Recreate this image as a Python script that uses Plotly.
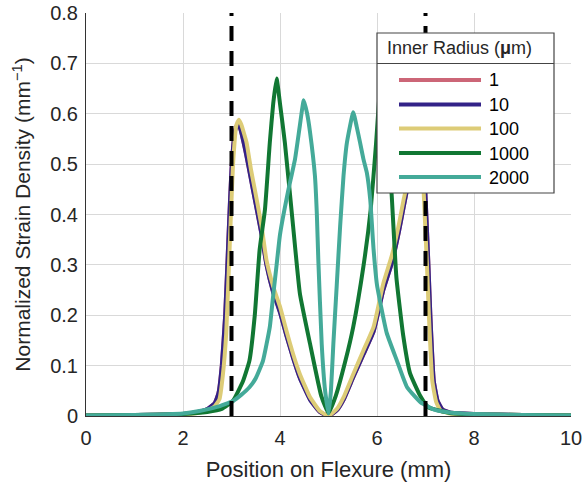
import plotly.graph_objects as go

# ---------------- data ----------------
series_names = ["1", "10", "100", "1000", "2000"]
series_colors = ["#CC6677", "#332288", "#DDCC77", "#117733", "#44AA99"]

x_r1 = [0, 1, 2, 2.3, 2.5, 2.65, 2.73, 2.8, 2.87, 2.94, 3.0, 3.07, 3.13, 3.18, 3.3, 3.4, 3.48,
        3.62, 3.72, 3.86, 4.0, 4.13, 4.27, 4.41, 4.62, 4.82, 5.0, 5.18, 5.31, 5.51, 5.72, 5.93,
        6.13, 6.31, 6.45, 6.55, 6.62, 6.7, 6.8, 6.88, 6.93, 6.99, 7.06, 7.1, 7.17, 7.25, 7.35,
        7.5, 8, 9, 10]
y_r1 = [0.001, 0.002, 0.004, 0.008, 0.014, 0.025, 0.045, 0.1, 0.2, 0.36, 0.49, 0.566, 0.581,
        0.571, 0.521, 0.471, 0.431, 0.361, 0.301, 0.246, 0.206, 0.161, 0.116, 0.076, 0.033,
        0.008, 0.0, 0.012, 0.032, 0.077, 0.122, 0.168, 0.25, 0.305, 0.365, 0.415, 0.45, 0.5,
        0.555, 0.578, 0.57, 0.46, 0.3, 0.2, 0.07, 0.03, 0.013, 0.007, 0.004, 0.002, 0.001]

x_r10 = [0, 1, 2, 2.3, 2.5, 2.65, 2.73, 2.8, 2.87, 2.94, 3.0, 3.07, 3.13, 3.18, 3.3, 3.4, 3.48,
         3.62, 3.72, 3.86, 4.0, 4.13, 4.27, 4.41, 4.62, 4.82, 5.0, 5.18, 5.31, 5.51, 5.72, 5.93,
         6.13, 6.31, 6.45, 6.55, 6.62, 6.7, 6.8, 6.88, 6.93, 6.99, 7.06, 7.1, 7.17, 7.25, 7.35,
         7.5, 8, 9, 10]
y_r10 = [0.001, 0.002, 0.004, 0.008, 0.014, 0.025, 0.045, 0.1, 0.2, 0.36, 0.49, 0.565, 0.58,
         0.57, 0.52, 0.47, 0.43, 0.36, 0.3, 0.245, 0.205, 0.16, 0.115, 0.075, 0.032, 0.008,
         0.0, 0.012, 0.032, 0.077, 0.122, 0.168, 0.25, 0.305, 0.365, 0.415, 0.45, 0.5, 0.555,
         0.578, 0.57, 0.46, 0.3, 0.2, 0.07, 0.03, 0.013, 0.007, 0.004, 0.002, 0.001]

x_r100 = [0, 1, 2, 2.3, 2.5, 2.65, 2.75, 2.82, 2.89, 2.96, 3.03, 3.1, 3.15, 3.2, 3.31, 3.4,
          3.48, 3.62, 3.72, 3.86, 4.0, 4.13, 4.27, 4.41, 4.62, 4.82, 5.0, 5.18, 5.31, 5.51,
          5.72, 5.93, 6.13, 6.31, 6.45, 6.55, 6.62, 6.7, 6.8, 6.86, 6.9, 6.96, 7.03, 7.07,
          7.14, 7.22, 7.31, 7.5, 8, 9, 10]
y_r100 = [0.001, 0.002, 0.003, 0.006, 0.011, 0.019, 0.033, 0.08, 0.163, 0.33, 0.497, 0.577,
          0.588, 0.579, 0.543, 0.49, 0.45, 0.377, 0.31, 0.257, 0.217, 0.17, 0.123, 0.083,
          0.037, 0.01, 0.0, 0.015, 0.037, 0.083, 0.13, 0.177, 0.263, 0.32, 0.38, 0.43, 0.46,
          0.51, 0.565, 0.585, 0.578, 0.45, 0.3, 0.2, 0.07, 0.028, 0.011, 0.005, 0.003, 0.002,
          0.001]

x_r1000 = [0, 1, 2, 2.5, 2.8, 3.03, 3.24, 3.37, 3.48, 3.58, 3.69, 3.79, 3.86, 3.93, 4.0, 4.1,
           4.27, 4.41, 4.62, 4.85, 5.0, 5.15, 5.35, 5.51, 5.72, 5.87, 5.98, 6.08, 6.16, 6.3,
           6.4, 6.54, 6.68, 6.89, 7.06, 7.5, 8, 9, 10]
y_r1000 = [0.001, 0.002, 0.004, 0.008, 0.014, 0.03, 0.07, 0.11, 0.2, 0.33, 0.41, 0.543, 0.62,
           0.67, 0.62, 0.543, 0.377, 0.243, 0.143, 0.04, 0.006, 0.04, 0.11, 0.177, 0.297,
           0.41, 0.54, 0.665, 0.62, 0.443, 0.275, 0.16, 0.085, 0.04, 0.017, 0.006, 0.003,
           0.002, 0.001]

x_r2000 = [0, 1, 2, 2.34, 2.7, 3.03, 3.2, 3.37, 3.5, 3.65, 3.79, 3.86, 3.93, 4.0, 4.16, 4.31,
           4.41, 4.49, 4.56, 4.62, 4.72, 4.76, 4.79, 4.86, 4.93, 5.0, 5.05, 5.1, 5.17, 5.24,
           5.31, 5.38, 5.51, 5.58, 5.65, 5.72, 5.79, 5.86, 5.93, 6.0, 6.2, 6.41, 6.62, 6.9,
           7.2, 7.5, 8, 9, 10]
y_r2000 = [0.001, 0.002, 0.005, 0.01, 0.018, 0.03, 0.042, 0.057, 0.075, 0.11, 0.177, 0.24,
           0.3, 0.36, 0.443, 0.51, 0.577, 0.627, 0.6, 0.563, 0.477, 0.4, 0.31, 0.143, 0.05,
           0.005, 0.05, 0.143, 0.26, 0.377, 0.477, 0.543, 0.603, 0.575, 0.543, 0.51, 0.483,
           0.43, 0.33, 0.26, 0.165, 0.11, 0.057, 0.027, 0.012, 0.007, 0.004, 0.002, 0.001]

series_x = [x_r1, x_r10, x_r100, x_r1000, x_r2000]
series_y = [y_r1, y_r10, y_r100, y_r1000, y_r2000]

boundary_x = [3, 7]          # dashed flexure limits (mm)
x_ticks = [0, 2, 4, 6, 8, 10]
y_ticks = [0, 0.1, 0.2, 0.3, 0.4, 0.5, 0.6, 0.7, 0.8]

# ---------------- figure ----------------
W, H = 584, 485
ML, MR, MT, MB = 86, 13, 13, 69
PW, PH = W - ML - MR, H - MT - MB

def px(x):
    return (x - ML) / PW

def py(y):
    return (H - MB - y) / PH

FONT = "Liberation Sans, Arial, Helvetica, sans-serif"
TXT = "#262626"

fig = go.Figure()
for xs, ys, nm, col in zip(series_x, series_y, series_names, series_colors):
    fig.add_trace(go.Scatter(x=xs, y=ys, mode="lines", name=nm,
                             line=dict(color=col, width=4, shape="spline", smoothing=0.4),
                             showlegend=False))

for bx in boundary_x:
    fig.add_trace(go.Scatter(x=[bx, bx], y=[y_ticks[0], y_ticks[-1]], mode="lines",
                             line=dict(color="black", width=4, dash="15px,10px"),
                             showlegend=False))

# ---- manual legend (box, title separator, samples, labels) ----
lx0, lx1, ly0, ly1 = 377, 554, 33, 193
shapes = [
    dict(type="rect", xref="paper", yref="paper", x0=px(lx0), x1=px(lx1), y0=py(ly1), y1=py(ly0),
         line=dict(color="#444444", width=1.2), fillcolor="white", layer="above"),
    dict(type="line", xref="paper", yref="paper", x0=px(lx0), x1=px(lx1), y0=py(63.5), y1=py(63.5),
         line=dict(color="#444444", width=1.2), layer="above"),
]
annotations = [
    dict(xref="paper", yref="paper", x=px(459), y=py(48), text="Inner Radius (<b>μ</b>m)",
         showarrow=False, xanchor="center", yanchor="middle",
         font=dict(family=FONT, size=18, color=TXT)),
]
entry_y = [80, 104.5, 128.5, 153, 177]
for ey, nm, col in zip(entry_y, series_names, series_colors):
    shapes.append(dict(type="line", xref="paper", yref="paper", x0=px(399), x1=px(481),
                       y0=py(ey), y1=py(ey), line=dict(color=col, width=4), layer="above"))
    annotations.append(dict(xref="paper", yref="paper", x=px(487), y=py(ey + 0.5), text=nm,
                            showarrow=False, xanchor="left", yanchor="middle",
                            font=dict(family=FONT, size=18, color="black")))

fig.update_layout(
    width=W, height=H,
    margin=dict(l=ML, r=MR, t=MT, b=MB, pad=0, autoexpand=False),
    paper_bgcolor="white", plot_bgcolor="white",
    font=dict(family=FONT, size=20, color=TXT),
    shapes=shapes, annotations=annotations,
    showlegend=False,
)
fig.update_xaxes(range=[0, 10], tickvals=x_ticks, ticks="", showgrid=True, gridcolor="#d9d9d9",
                 gridwidth=1, showline=True, linecolor="#333333", linewidth=1, zeroline=False,
                 automargin=False, ticklabelstandoff=4, tickfont=dict(size=20, color=TXT),
                 title=dict(text="Position on Flexure (mm)", font=dict(size=22, color=TXT),
                            standoff=13))
fig.update_yaxes(range=[0, 0.8], tickvals=y_ticks, ticktext=[f"{v:g}" for v in y_ticks], ticks="",
                 showgrid=True, gridcolor="#d9d9d9", gridwidth=1, showline=True,
                 linecolor="#333333", linewidth=1, zeroline=False, automargin=False,
                 ticklabelstandoff=3,
                 tickfont=dict(size=20, color=TXT),
                 title=dict(text="Normalized Strain Density (mm<sup>−1</sup>)",
                            font=dict(size=21, color=TXT), standoff=13))

fig.write_html("out.html")
